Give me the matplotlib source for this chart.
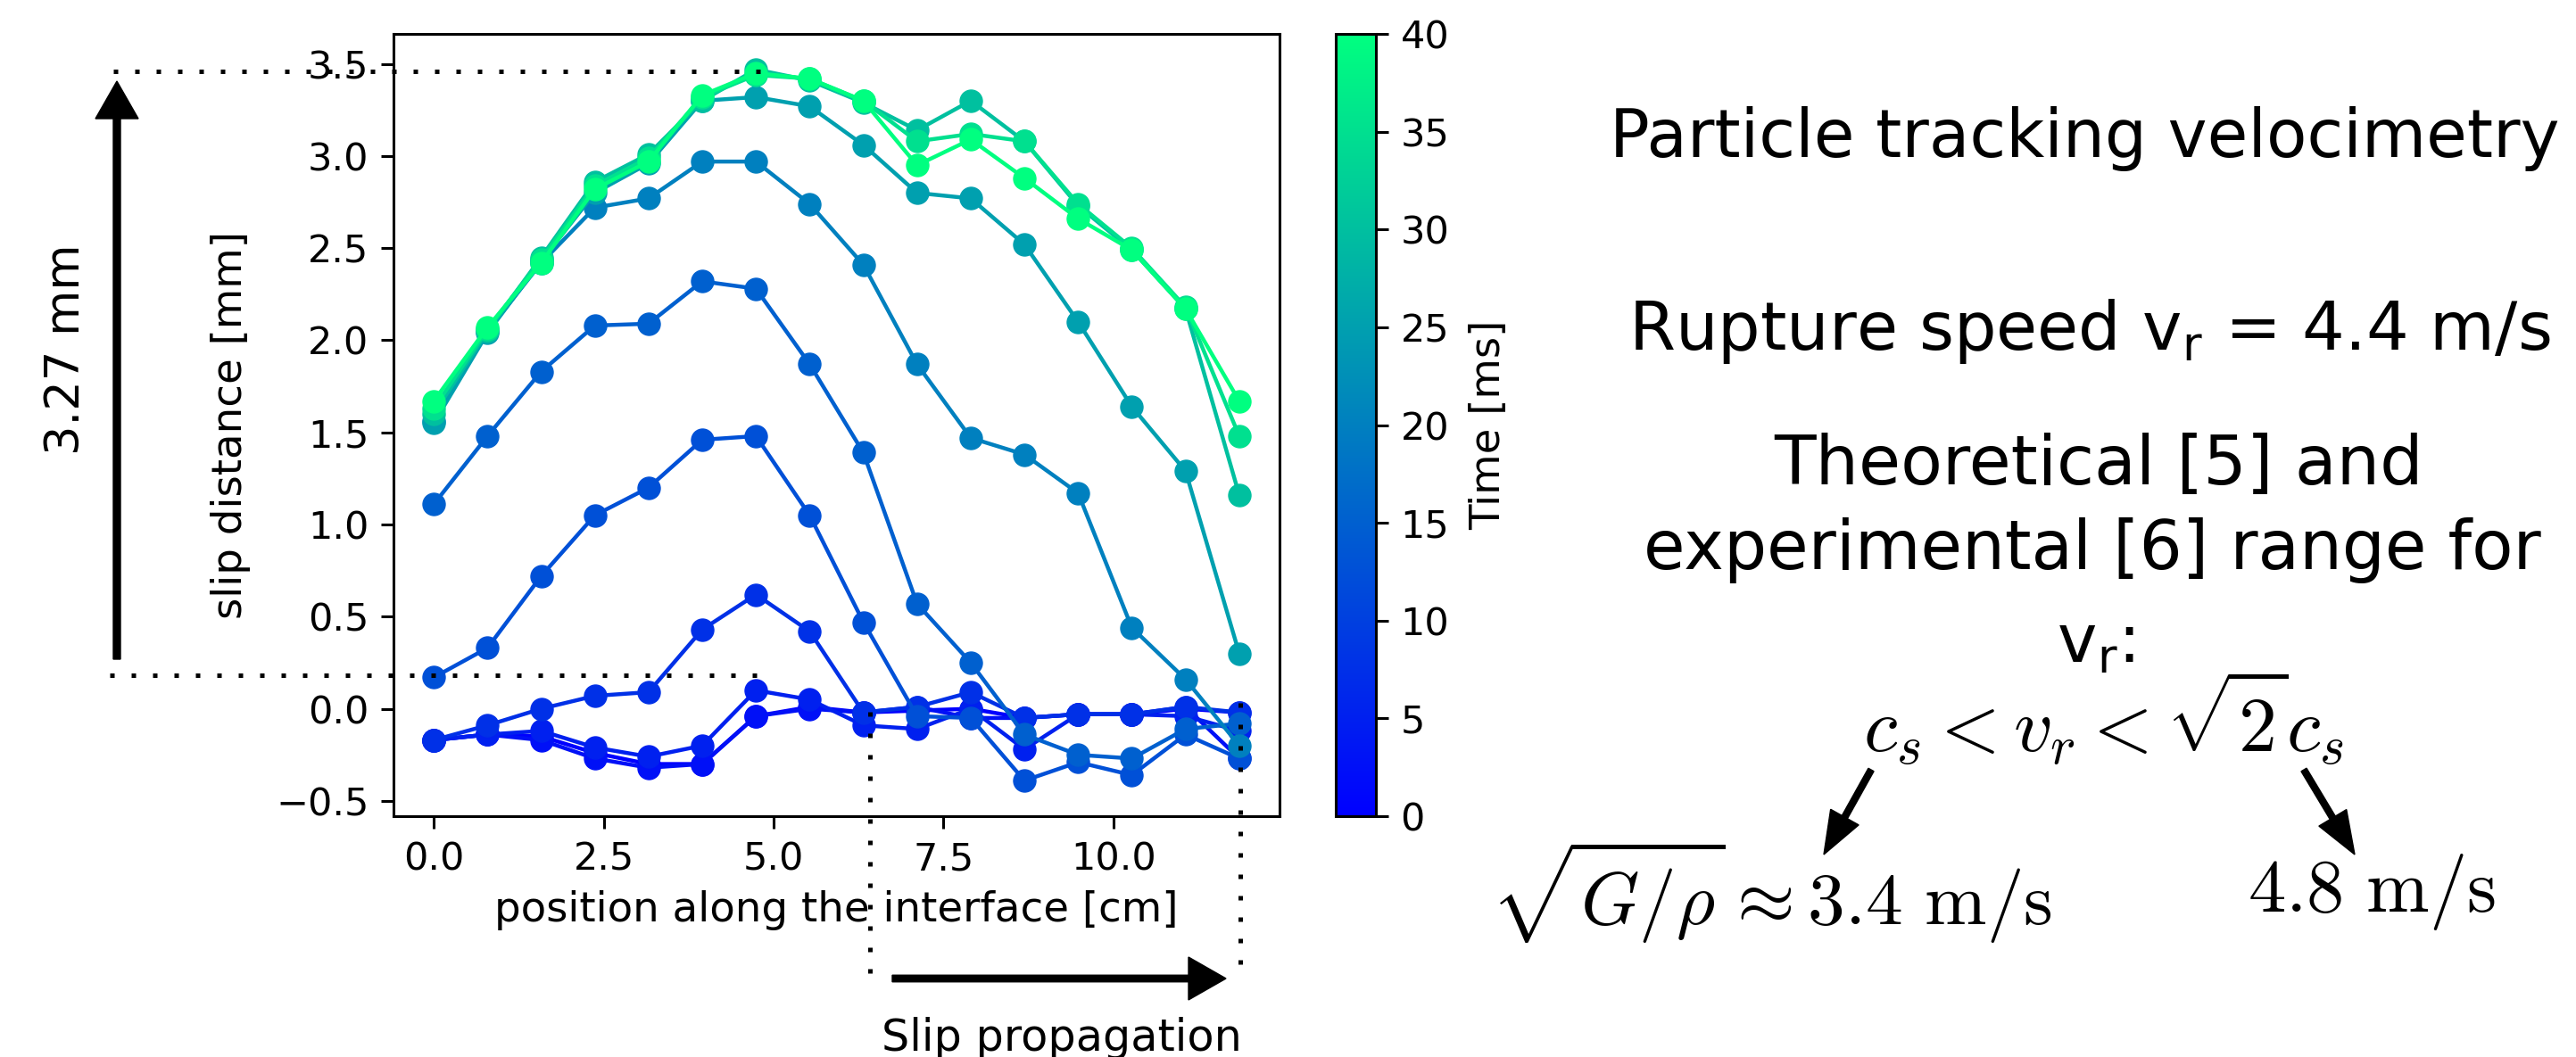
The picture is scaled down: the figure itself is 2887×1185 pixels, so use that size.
import matplotlib
matplotlib.use("Agg")
import matplotlib.pyplot as plt
import matplotlib.patches as patches
from matplotlib.colors import Normalize
from matplotlib.cm import ScalarMappable

plt.rcParams['mathtext.fontset'] = 'cm'
plt.rcParams['font.family'] = 'DejaVu Sans'

# positions along the interface [cm]
position = [0.0, 0.79, 1.58, 2.37, 3.16, 3.95, 4.74, 5.53,
            6.32, 7.11, 7.9, 8.69, 9.48, 10.27, 11.06, 11.85]

# time of each slip profile [ms]
times = [0, 2.5, 5, 7.5, 12.5, 15, 20, 25, 30, 35, 40]

# slip distance [mm], one row per time
slip_t0 = [-0.17, -0.14, -0.15, -0.24, -0.30, -0.30, -0.04, 0.01,
           -0.02, -0.01, 0.00, -0.05, -0.03, -0.03, 0.00, -0.02]
slip_t2 = [-0.17, -0.14, -0.17, -0.27, -0.32, -0.30, -0.04, 0.00,
           -0.02, 0.01, -0.05, -0.05, -0.03, -0.03, 0.01, -0.27]
slip_t5 = [-0.17, -0.14, -0.12, -0.21, -0.26, -0.20, 0.10, 0.05,
           -0.09, -0.11, 0.00, -0.22, -0.03, -0.03, -0.04, -0.12]
slip_t7 = [-0.17, -0.09, 0.00, 0.07, 0.09, 0.43, 0.62, 0.42,
           -0.02, 0.01, 0.09, -0.05, -0.03, -0.03, 0.01, -0.02]
slip_t12 = [0.17, 0.33, 0.72, 1.05, 1.20, 1.46, 1.48, 1.05,
            0.47, -0.04, -0.05, -0.39, -0.29, -0.36, -0.14, -0.27]
slip_t15 = [1.11, 1.48, 1.83, 2.08, 2.09, 2.32, 2.28, 1.87,
            1.39, 0.57, 0.25, -0.14, -0.25, -0.27, -0.11, -0.08]
slip_t20 = [1.56, 2.05, 2.42, 2.72, 2.77, 2.97, 2.97, 2.74,
            2.41, 1.87, 1.47, 1.38, 1.17, 0.44, 0.16, -0.20]
slip_t25 = [1.55, 2.04, 2.43, 2.80, 2.96, 3.30, 3.32, 3.27,
            3.06, 2.80, 2.77, 2.52, 2.10, 1.64, 1.29, 0.30]
slip_t30 = [1.60, 2.05, 2.45, 2.86, 3.01, 3.30, 3.47, 3.41,
            3.29, 3.14, 3.30, 3.08, 2.73, 2.49, 2.17, 1.16]
slip_t35 = [1.63, 2.06, 2.44, 2.84, 2.99, 3.32, 3.44, 3.42,
            3.30, 3.08, 3.12, 3.08, 2.74, 2.50, 2.18, 1.48]
slip_t40 = [1.67, 2.07, 2.42, 2.82, 2.97, 3.33, 3.45, 3.42,
            3.30, 2.95, 3.09, 2.88, 2.66, 2.49, 2.17, 1.67]
slips = [slip_t0, slip_t2, slip_t5, slip_t7, slip_t12, slip_t15,
         slip_t20, slip_t25, slip_t30, slip_t35, slip_t40]

W, H = 2887, 1185
fig = plt.figure(figsize=(W / 100, H / 100), dpi=100)

def frame(left, top, right, bottom):
    return [left / W, 1 - bottom / H, (right - left) / W, (bottom - top) / H]

ax = fig.add_axes(frame(441, 38, 1434, 915))
cax = fig.add_axes(frame(1497, 38, 1542, 915))

cmap = plt.get_cmap('winter')
norm = Normalize(vmin=0, vmax=40)

for t, s in zip(times, slips):
    ax.plot(position, s, '-o', color=cmap(norm(t)), lw=3.2, ms=18)

ax.set_xticks([0, 2.5, 5, 7.5, 10])
ax.set_yticks([-0.5, 0, 0.5, 1, 1.5, 2, 2.5, 3, 3.5])
ax.tick_params(labelsize=31, length=9.8, width=2.2, pad=10)
for sp in ax.spines.values():
    sp.set_linewidth(2.2)
ax.set_xlabel('position along the interface [cm]', fontsize=33.6, labelpad=10)
ax.set_ylabel('slip distance [mm]', fontsize=33.6, labelpad=20)

cb = fig.colorbar(ScalarMappable(norm=norm, cmap=cmap), cax=cax)
cb.set_ticks([0, 5, 10, 15, 20, 25, 30, 35, 40])
cb.ax.tick_params(labelsize=31, length=9.8, width=2.2, pad=10)
cb.outline.set_linewidth(2.2)
cb.set_label('Time [ms]', fontsize=33.6, labelpad=16)

# overlay in picture pixels (y down) for annotations
ov = fig.add_axes([0, 0, 1, 1], zorder=5)
ov.set_xlim(0, W)
ov.set_ylim(H, 0)
ov.axis('off')

dots = dict(color='black', lw=3.6, ls=(0, (1, 3.8)))
ov.plot([127, 856], [80, 80], **dots)
ov.plot([123, 852], [757, 757], **dots)
ov.plot([975, 975], [798, 1092], **dots)
ov.plot([1390, 1390], [788, 1082], **dots)

ov.add_patch(patches.FancyArrow(131, 739, 0, -648, width=8, head_width=48, head_length=42,
                                length_includes_head=True, color='black'))
ov.add_patch(patches.FancyArrow(1000, 1097, 374, 0, width=7.5, head_width=48, head_length=42,
                                length_includes_head=True, color='black'))
ov.add_patch(patches.FancyArrow(2097, 863, -53, 95, width=7, head_width=36, head_length=48,
                                length_includes_head=True, color='black'))
ov.add_patch(patches.FancyArrow(2582, 863, 57, 95, width=7, head_width=36, head_length=48,
                                length_includes_head=True, color='black'))

ov.text(74, 392, '3.27 mm', rotation=90, fontsize=38, ha='center', va='center')
ov.text(1190, 1140, 'Slip propagation', fontsize=35.5, ha='center', va='top')

ov.text(2336, 156, 'Particle tracking velocimetry', fontsize=53.5, ha='center', va='center')
ov.text(2342, 371, r'Rupture speed $\mathregular{v_r}$ = 4.4 m/s', fontsize=54,
        ha='center', va='center')
ov.text(2352, 522, 'Theoretical [5] and', fontsize=55, ha='center', va='center')
ov.text(2345, 617, 'experimental [6] range for', fontsize=54.5, ha='center', va='center')
ov.text(2349, 722, r'$\mathregular{v_r}$:', fontsize=54, ha='center', va='center')
ov.text(2357, 806, r'$c_s < v_r < \sqrt{2}c_s$', fontsize=62, ha='center', va='center')
ov.text(1985, 1000, r'$\sqrt{G/\rho} \approx 3.4\ \mathrm{m/s}$', fontsize=60,
        ha='center', va='center')
ov.text(2658, 1000, r'$4.8\ \mathrm{m/s}$', fontsize=61, ha='center', va='center')

fig.savefig('out.png', dpi=100)
